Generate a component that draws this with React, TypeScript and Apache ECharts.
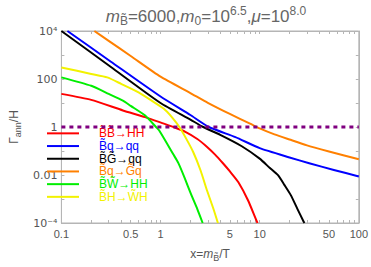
import React, { useEffect, useRef } from "react";
import * as echarts from "echarts";

// ---- data (x = m/T, y = Gamma_ann/H) ----
const bbHH: [number, number][] = [[0.1,24],[0.2,13.5],[0.417,4.9],[0.7,2.57],[1.08,1.38],[1.35,1.0],[1.78,0.63],[2.35,0.316],[2.93,0.151],[3.55,0.0708],[4.24,0.0316],[5.01,0.0141],[6.1,0.005],[7.62,0.00089],[9.5,0.0001]];
const bqQQ: [number, number][] = [[0.115,1e4],[0.316,525],[1,18.6],[2,3.16],[3.07,1],[5.69,0.38],[10,0.132],[20,0.054],[31.6,0.031],[56,0.0162],[100,0.0087]];
const bgQQ: [number, number][] = [[0.1,1e4],[0.316,316],[1,10],[2,2.04],[2.69,1],[4,0.47],[6.6,0.158],[10,0.048],[12.6,0.02],[15.3,0.0098],[17.8,0.0038],[20.6,0.00145],[24,0.00039],[27.7,0.000115],[28.3,0.0001]];
const bqGQ: [number, number][] = [[0.215,1e4],[0.3,3900],[0.5,910],[1,125],[2,26],[3,10.2],[5,3.5],[8,1.38],[10,0.87],[14.1,0.49],[20,0.3],[30,0.172],[50,0.096],[100,0.045]];
const bwHH: [number, number][] = [[0.1,117],[0.2,52],[0.3,24],[0.417,12.6],[0.5,7.6],[0.7,3.0],[0.9,1.0],[0.97,0.71],[1.35,0.071],[1.51,0.032],[1.75,0.0076],[2.03,0.00158],[2.35,0.00038],[2.66,0.0001]];
const bhWH: [number, number][] = [[0.1,302],[0.2,163],[0.29,117],[0.4,63],[0.6,28],[0.8,13.2],[1.08,5.75],[1.3,2.6],[1.55,1.0],[1.82,0.32],[2.14,0.089],[2.53,0.0158],[2.95,0.0022],[3.4,0.00041],[3.79,0.0001]];
const threshold = 1;

const seriesNames = [
  "B\u0303B\u0303\u2192HH",
  "B\u0303q\u2192qq",
  "B\u0303G\u0303\u2192qq",
  "B\u0303q\u2192G\u0303q",
  "B\u0303W\u0303\u2192HH",
  "B\u0303H\u2192W\u0303H",
];
const seriesData = [bbHH, bqQQ, bgQQ, bqGQ, bwHH, bhWH];
const seriesColors = ["#ff0000", "#0000ff", "#000000", "#ff8000", "#00ee00", "#f2f200"];

const xLabelValues = [0.1, 0.5, 1, 5, 10, 50, 100];
const yLabelValues = [1e-4, 0.01, 1, 100, 1e4];
const yLabelTexts: Record<string, string> = {
  "0.0001": "10\u207B\u2074",
  "0.01": "0.01",
  "1": "1",
  "100": "100",
  "10000": "10\u2074",
};

const xTickValues: number[] = [];
[0.1, 1, 10].forEach((d) => {
  for (let k = 1; k <= 9; k++) xTickValues.push(+(d * k).toPrecision(3));
});
xTickValues.push(100);
const yTickValues = [1e-4, 1e-3, 1e-2, 1e-1, 1, 10, 100, 1000, 1e4];

const FONT = "Liberation Sans";
const GRAY = "#555555";
const TGRAY = "#666666";

export default function App() {
  const ref = useRef<HTMLDivElement>(null);
  useEffect(() => {
    if (!ref.current) return;
    const chart = echarts.init(ref.current, undefined, { renderer: "svg" });
    const axisCommon = {
      type: "log" as const,
      logBase: 10,
      axisLine: { show: true, lineStyle: { color: "#b5b5b5", width: 1 } },
      splitLine: { show: false },
    };
    const option: any = {
      animation: false,
      backgroundColor: "#ffffff",
      textStyle: { fontFamily: FONT },
      title: {
        left: 201,
        textAlign: "center",
        top: 0,
        text: "{i|m}{s|B\u0303}{n|=6000,}{i|m}{s|0}{n|=10}{p|6.5}{n|,}{i|\u03BC}{n|=10}{p|8.0}",
        textStyle: {
          fontFamily: FONT,
          fontWeight: "normal",
          fontSize: 17,
          rich: {
            n: { fontSize: 17, color: TGRAY, fontFamily: FONT, fontWeight: "normal", lineHeight: 22, verticalAlign: "middle" },
            i: { fontSize: 17, color: TGRAY, fontFamily: FONT, fontWeight: "normal", fontStyle: "italic", lineHeight: 22, verticalAlign: "middle" },
            s: { fontSize: 12, color: TGRAY, fontFamily: FONT, fontWeight: "normal", lineHeight: 11, verticalAlign: "bottom" },
            p: { fontSize: 12, color: TGRAY, fontFamily: FONT, fontWeight: "normal", lineHeight: 11, verticalAlign: "top" },
          },
        },
      },
      grid: { left: 47, right: 11, top: 31, bottom: 42, show: true, borderColor: "#b5b5b5", borderWidth: 1 },
      legend: {
        orient: "vertical",
        left: 47,
        top: 127,
        padding: 0,
        itemGap: 0,
        itemWidth: 32,
        itemHeight: 2,
        icon: "rect",
        data: seriesNames.map((n, i) => ({ name: n, textStyle: { color: seriesColors[i] } })),
        textStyle: { fontFamily: FONT, fontSize: 12, lineHeight: 12.7, padding: [0, 0, 0, 15] },
        selectedMode: false,
      },
      xAxis: [
        {
          ...axisCommon,
          min: 0.1,
          max: 100,
          position: "bottom",
          name: "{n|x=}{i|m}{s|B\u0303}{n|/T}",
          nameLocation: "middle",
          nameGap: 23,
          nameTextStyle: {
            rich: {
              n: { fontSize: 12, color: GRAY, fontFamily: FONT, lineHeight: 16, verticalAlign: "middle" },
              i: { fontSize: 12, color: GRAY, fontFamily: FONT, fontStyle: "italic", lineHeight: 16, verticalAlign: "middle" },
              s: { fontSize: 9, color: GRAY, fontFamily: FONT, lineHeight: 9, verticalAlign: "bottom" },
            },
          },
          axisTick: { show: true, inside: true, length: 3, lineStyle: { color: "#b5b5b5" }, customValues: xTickValues },
          axisLabel: {
            show: true,
            color: GRAY,
            fontSize: 11,
            fontFamily: FONT,
            margin: 5,
            customValues: xLabelValues,
            formatter: (v: number) => String(+v.toPrecision(3)),
          },
        },
        {
          ...axisCommon,
          min: 0.1,
          max: 100,
          position: "top",
          axisTick: { show: true, inside: true, length: 3, lineStyle: { color: "#b5b5b5" }, customValues: xTickValues },
          axisLabel: { show: false },
        },
      ],
      yAxis: [
        {
          ...axisCommon,
          min: 1e-4,
          max: 1e4,
          position: "left",
          name: "{n|\u0393}{s|ann}{n|/H}",
          nameLocation: "middle",
          nameRotate: 90,
          nameGap: 30,
          nameTextStyle: {
            rich: {
              n: { fontSize: 12, color: GRAY, fontFamily: FONT, lineHeight: 16, verticalAlign: "middle" },
              s: { fontSize: 9, color: GRAY, fontFamily: FONT, lineHeight: 9, verticalAlign: "bottom" },
            },
          },
          axisTick: { show: true, inside: true, length: 3, lineStyle: { color: "#b5b5b5" }, customValues: yTickValues },
          axisLabel: {
            show: true,
            color: GRAY,
            fontSize: 11,
            fontFamily: "DejaVu Sans",
            margin: 4,
            customValues: yLabelValues,
            formatter: (v: number) => yLabelTexts[String(+v.toPrecision(3))] ?? String(v),
          },
        },
        {
          ...axisCommon,
          min: 1e-4,
          max: 1e4,
          position: "right",
          axisTick: { show: true, inside: true, length: 3, lineStyle: { color: "#b5b5b5" }, customValues: yTickValues },
          axisLabel: { show: false },
        },
      ],
      series: [
        ...seriesData.map((d, i) => ({
          name: seriesNames[i],
          type: "line",
          data: d,
          showSymbol: false,
          symbol: "none",
          smooth: 0.2,
          clip: true,
          color: seriesColors[i],
          lineStyle: { color: seriesColors[i], width: 2, join: "round" },
        })),
        {
          name: "threshold",
          type: "line",
          data: [[0.1, threshold], [100, threshold]],
          showSymbol: false,
          symbol: "none",
          lineStyle: { color: "#800080", width: 3, type: [4, 4] },
          z: 5,
        },
      ],
    };
    chart.setOption(option);
    return () => chart.dispose();
  }, []);
  return (
    <div
      ref={ref}
      style={{ position: "fixed", left: 0, top: 0, width: 371, height: 267, background: "#fff" }}
    />
  );
}
